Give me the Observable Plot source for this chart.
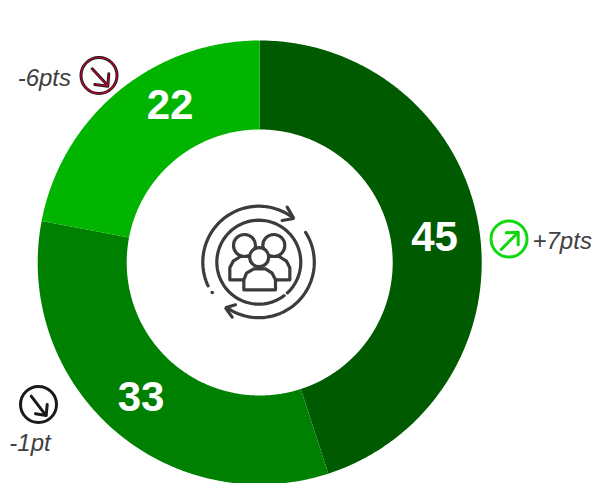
<!DOCTYPE html>
<html><head><meta charset="utf-8">
<script src="https://cdn.jsdelivr.net/npm/d3@7"></script>
<script src="https://cdn.jsdelivr.net/npm/@observablehq/plot@0.6"></script>
<style>html,body{margin:0;padding:0;background:#fff}svg{display:block}</style>
</head><body><div id="chart"></div>
<script>
const categories = ["A", "B", "C"];
const values = [45, 33, 22];
const colors = ["#005a00", "#008000", "#00b400"];
const changes = ["+7pts", "-1pt", "-6pts"];

// annotation placement, in the chart's pixel-like data space
const valueLabelX = [434, 140.5, 169.5];
const valueLabelY = [237, 397, 105];
const changeX = [532, 29.5, 70.5];
const changeY = [241, 443, 78];
const changeAnchor = ["start", "middle", "end"];
const badgeX = [508.5, 38, 98.5];
const badgeY = [238.5, 404, 75];
const badgeColor = ["#0fd80f", "#1a1a1a", "#1a1a1a"];
const shafts = [
  [[500.7,249],[517.3,232.3]],
  [[30.7,395.7],[45,414.3]],
  [[91.7,68.3],[107.3,85]]
];
const heads = [
  [[505.7,232.3],[517.7,231.7],[517.7,244.3]],
  [[35,413.3],[45.7,415],[46.7,404]],
  [[94.3,84],[107.3,85.7],[108.3,73.3]]
];

const cx = 259.2, cy = 262, rOuter = 222, rInner = 133;
const polar = (a, r, ox = cx, oy = cy) => [ox + r * Math.sin(a), oy - r * Math.cos(a)];
const rad = d3.scaleLinear().domain([0, 360]).range([0, 2 * Math.PI]);

// ring slices derived from the values
const total = d3.sum(values);
let acc = 0;
const slicePts = [];
values.forEach((v, i) => {
  const a0 = acc / total * 2 * Math.PI, a1 = (acc + v) / total * 2 * Math.PI;
  acc += v;
  const steps = Math.ceil((a1 - a0) * 120);
  const outer = d3.range(steps + 1).map(k => polar(a0 + (a1 - a0) * k / steps, rOuter));
  const inner = d3.range(steps + 1).map(k => polar(a1 - (a1 - a0) * k / steps, rInner));
  for (const p of [...outer, ...inner]) slicePts.push({x: p[0], y: p[1], cat: categories[i]});
});

// central icon
const ix = 258.3, iy = 261.7;
const arc = (from, to, r) => {
  const n = 60;
  return d3.range(n + 1).map(k => polar(rad(from + (to - from) * k / n), r, ix, iy));
};
const zoomed = (x, y) => [190 + x / 3, 190 + y / 3];
const z3 = pts => pts.map(p => zoomed(...p));
const iconPaths = [
  arc(245, 396.5, 56),
  arc(57.6, 215, 55.5),
  arc(143, 497, 42),
  z3([[290,50],[310,84],[275,90]]),
  z3([[135,343],[105,352],[125,380]])
];
const F = "#3c3c3c";
const toRows = (paths) => paths.flatMap((p, i) => p.map(([x, y]) => ({x, y, i})));

const backL = z3([[160,268],[118,268],[118,232],[128,212],[150,198],[172,198]]);
const backR = z3([[254,268],[298,268],[298,232],[288,212],[266,198],[244,198]]);
const front = z3([[160,298],[160,268],[168,248],[190,235],[225,235],[245,248],[255,268],[255,298],[160,298]]);
const heads3 = [[162,165],[250,165]].map(p => zoomed(...p));
const frontHead = zoomed(206,200);

const txt = {fontFamily: "Liberation Sans, Arial, sans-serif"};

const plot = Plot.plot({
  width: 595, height: 483, margin: 0,
  x: {domain: [0, 595], range: [0, 595], axis: null},
  y: {domain: [0, 483], range: [0, 483], axis: null},
  color: {domain: categories, range: colors},
  style: {background: "#fff"},
  marks: [
    Plot.line(slicePts, {x: "x", y: "y", z: "cat", fill: "cat", stroke: null, curve: "linear"}),
    Plot.text(values, {x: (d, i) => valueLabelX[i], y: (d, i) => valueLabelY[i], text: d => String(d),
      fill: "#fff", fontSize: 42, fontWeight: "bold", ...txt}),
    // central icon
    Plot.line(toRows(iconPaths), {x: "x", y: "y", z: "i", stroke: F, strokeWidth: 3.2, curve: "linear", strokeLinejoin: "miter"}),
    Plot.dot([polar(rad(237), 55.5, ix, iy)], {x: d => d[0], y: d => d[1], r: 1.8, fill: F, stroke: null}),
    Plot.line(toRows([backL, backR]), {x: "x", y: "y", z: "i", stroke: F, strokeWidth: 3.2, fill: "#fff", curve: "linear"}),
    Plot.dot(heads3, {x: d => d[0], y: d => d[1], r: 11, stroke: F, strokeWidth: 3.2, fill: "#fff"}),
    Plot.dot([frontHead], {x: d => d[0], y: d => d[1], r: 9.5, stroke: F, strokeWidth: 3.2, fill: "#fff"}),
    Plot.line(toRows([front]), {x: "x", y: "y", z: "i", stroke: F, strokeWidth: 3.2, fill: "#fff", curve: "linear"}),
    // change badges
    Plot.dot(changes, {x: (d, i) => badgeX[i], y: (d, i) => badgeY[i], r: 18, stroke: (d, i) => badgeColor[i], strokeWidth: 3, fill: "none"}),
    Plot.line(toRows([...shafts, ...heads]), {x: "x", y: "y", z: "i", stroke: d => badgeColor[d.i % 3], strokeWidth: 3, curve: "linear"}),
    Plot.dot(changes.slice(2), {x: () => badgeX[2], y: () => badgeY[2], r: 18, stroke: "#c8002d", strokeWidth: 1.2, fill: "none"}),
    Plot.line(toRows([shafts[2], heads[2]]), {x: "x", y: "y", z: "i", stroke: "#c8002d", strokeWidth: 1.2, curve: "linear"}),
    ...changes.map((c, i) => Plot.text([c], {x: () => changeX[i], y: () => changeY[i], text: d => d,
      fill: "#404040", fontSize: 24, fontStyle: "italic", textAnchor: changeAnchor[i], ...txt}))
  ]
});
document.getElementById("chart").appendChild(plot);
</script></body></html>
